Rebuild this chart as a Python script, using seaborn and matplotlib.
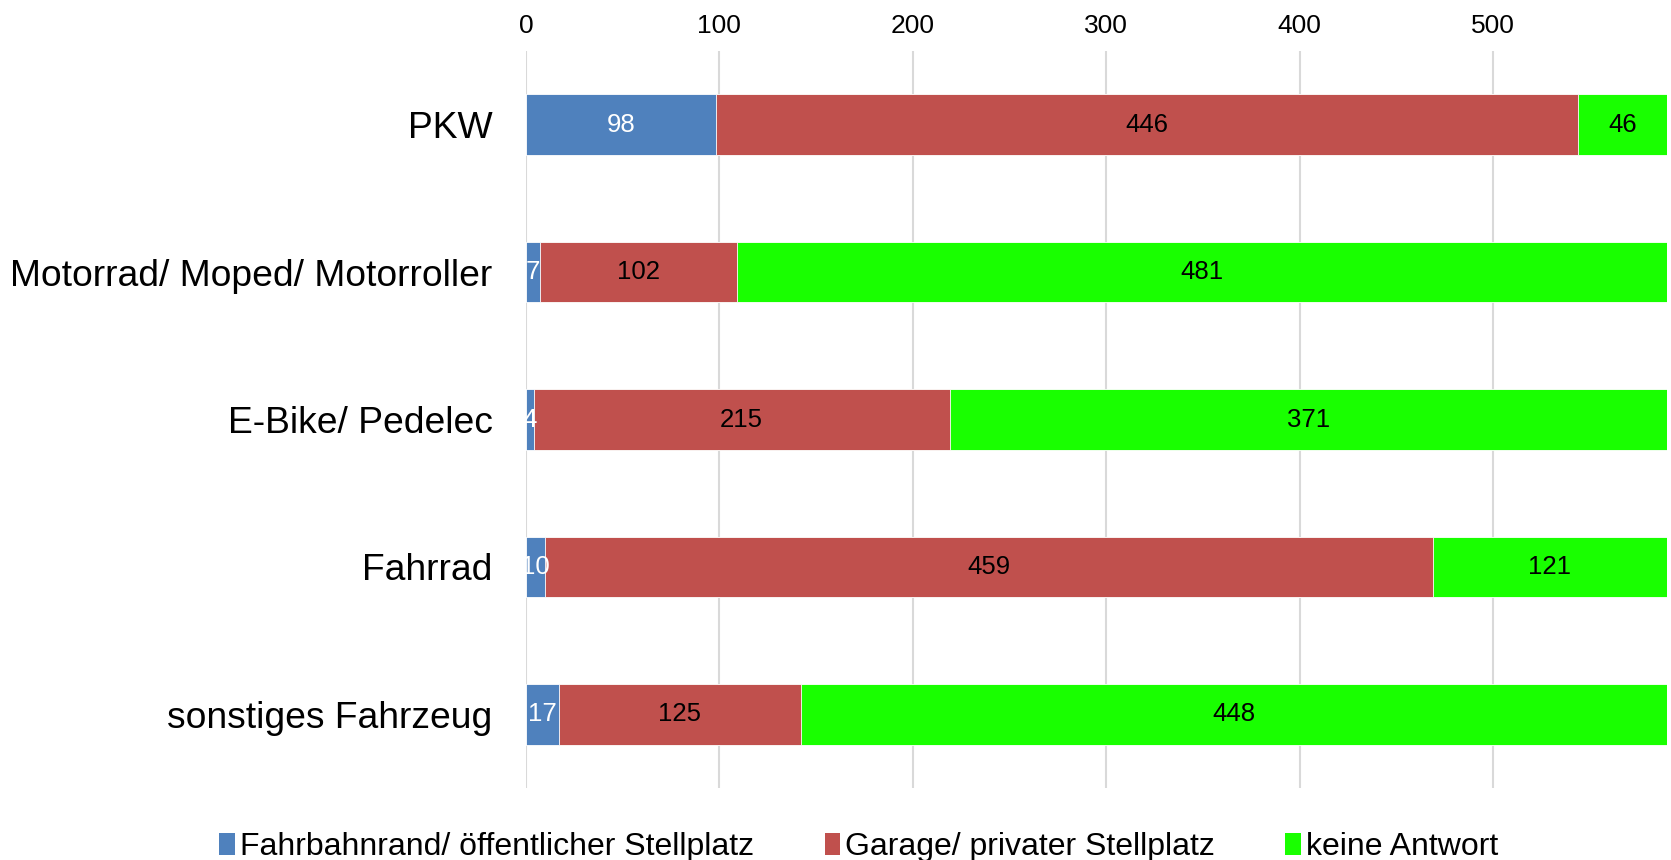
import numpy as np
import pandas as pd
import seaborn as sns
import matplotlib.pyplot as plt
from matplotlib.patches import Patch

sns.set_style('white')
plt.rcParams['font.family'] = ['Liberation Sans', 'DejaVu Sans']
plt.rcParams['text.color'] = 'black'
plt.rcParams['xtick.color'] = 'black'
plt.rcParams['ytick.color'] = 'black'

categories = ['PKW', 'Motorrad/ Moped/ Motorroller', 'E-Bike/ Pedelec', 'Fahrrad', 'sonstiges Fahrzeug']
fahrbahnrand = [98, 7, 4, 10, 17]
garage = [446, 102, 215, 459, 125]
keine_antwort = [46, 481, 371, 121, 448]
series_names = ['Fahrbahnrand/ öffentlicher Stellplatz', 'Garage/ privater Stellplatz', 'keine Antwort']
colors = ['#4F81BD', '#C0504D', '#19FF00']
label_colors = ['white', 'black', 'black']
xticks = [0, 100, 200, 300, 400, 500]

df = pd.DataFrame({'cat': categories, 's1': fahrbahnrand, 's2': garage, 's3': keine_antwort})
df['c1'] = df['s1']
df['c2'] = df['s1'] + df['s2']
df['c3'] = df['c2'] + df['s3']

fig = plt.figure(figsize=(16.71, 8.6), dpi=100)
ax = fig.add_axes([0.3148, 0.0837, 0.6828, 0.857])

# stacked bars: draw cumulative totals back to front
for cum, col in zip(['c3', 'c2', 'c1'], colors[::-1]):
    sns.barplot(data=df, x=cum, y='cat', color=col, width=0.41, orient='h',
                saturation=1, edgecolor='white', linewidth=0.6, ax=ax, zorder=3)

for i in range(len(categories)):
    vals = [df['s1'][i], df['s2'][i], df['s3'][i]]
    left = 0
    for v, lc in zip(vals, label_colors):
        ax.text(left + v / 2, i, str(v), ha='center', va='center',
                color=lc, fontsize=18.5, zorder=5)
        left += v

ax.set_xlim(0, 590)
ax.set_ylim(4.5, -0.5)
ax.set_xticks(xticks)
ax.xaxis.tick_top()
ax.tick_params(axis='x', length=0, pad=9, labelsize=19)
ax.tick_params(axis='y', length=0, pad=24, labelsize=26.8)
ax.grid(axis='x', color='#D9D9D9', linewidth=1.5, zorder=0)
ax.set_axisbelow(True)
for s in ax.spines.values():
    s.set_visible(False)
ax.set_xlabel('')
ax.set_ylabel('')

handles = [Patch(facecolor=c, edgecolor='none') for c in colors]
fig.legend(handles, series_names, loc='center', bbox_to_anchor=(0.514, 0.015), ncol=3,
           frameon=False, fontsize=23, handlelength=0.5, handleheight=0.7,
           handletextpad=0.15, columnspacing=2.2, borderaxespad=0, borderpad=0)

plt.savefig('out.png', dpi=100)
